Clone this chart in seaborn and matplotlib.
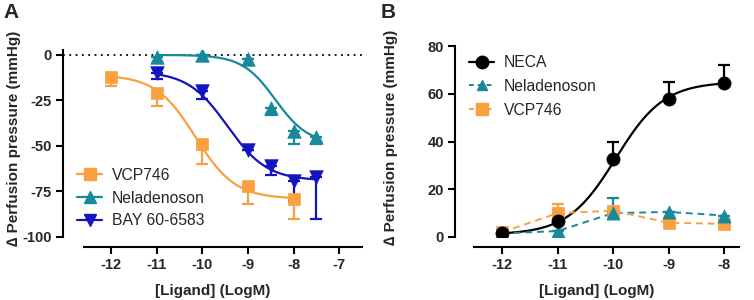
import numpy as np
import pandas as pd
import matplotlib
matplotlib.use("Agg")
import matplotlib.pyplot as plt
import seaborn as sns
from matplotlib.lines import Line2D

# colores
naranja = "#F9A040"
verde = "#17899A"
azul = "#1414C0"

# Panel A: vasodilatacion (valores negativos), error hacia abajo
x_vcp_a = [-12, -11, -10, -9, -8]
y_vcp_a = [-12, -21, -49, -72, -79]
e_vcp_a = [5, 7, 11, 10, 11]

x_nel_a = [-11, -10, -9, -8.5, -8, -7.5]
y_nel_a = [-1, 0, -2, -29, -42, -45]
e_nel_a = [0, 0, 0, 4, 7, 4]

x_bay_a = [-11, -10, -9, -8.5, -8, -7.5]
y_bay_a = [-10, -20, -52, -61, -69, -67]
e_bay_a = [3, 4, 0, 5, 11, 23]

# parametros del ajuste sigmoide (arriba, abajo, logEC50, hill)
fit_vcp_a = (-11, -79, -10.15, 1.0)
fit_nel_a = (0, -49, -8.4, 1.2)
fit_bay_a = (-9, -69, -9.45, 1.0)

# Panel B: vasoconstriccion, error hacia arriba
x_b = [-12, -11, -10, -9, -8]
y_neca_b = [1.5, 6.5, 32.5, 58, 64.5]
e_neca_b = [0, 0, 7.5, 7, 7.5]
y_nel_b = [1.5, 2.5, 10, 10.5, 9]
e_nel_b = [0, 0, 6.5, 0, 0]
y_vcp_b = [2, 10, 11, 6, 5.5]
e_vcp_b = [0, 4, 0, 0, 0]
fit_neca_b = (1, 65, -9.95, 1.0)


def sigmoide(x, p):
    arriba, abajo, ec50, hill = p
    return arriba + (abajo - arriba) / (1 + 10 ** ((ec50 - x) * hill))


def curva(ax, xmin, xmax, p, color):
    xs = np.linspace(xmin, xmax, 200)
    df = pd.DataFrame({'x': xs, 'y': sigmoide(xs, p)})
    sns.lineplot(data=df, x='x', y='y', color=color, lw=1.6, ax=ax)


def puntos(ax, x, y, e, color, marker, signo, ms=80):
    ax.errorbar(x, y, yerr=[np.zeros(len(e)) if signo > 0 else e,
                            e if signo > 0 else np.zeros(len(e))],
                fmt='none', ecolor=color, elinewidth=1.6, capsize=4.5,
                capthick=1.6, zorder=3)
    sns.scatterplot(x=x, y=y, color=color, marker=marker, s=ms,
                    edgecolor=color, linewidth=0.5, ax=ax, zorder=4)


sns.set_style("ticks")
plt.rcParams['font.family'] = ['Liberation Sans', 'DejaVu Sans']
plt.rcParams['axes.unicode_minus'] = False

fig = plt.figure(figsize=(7.54, 3.0), dpi=100)
axA = fig.add_axes([63 / 754, 1 - 237 / 300, 299 / 754, 187 / 300])
axB = fig.add_axes([455 / 754, 1 - 237 / 300, 284 / 754, 191 / 300])

# ----- A -----
axA.axhline(0, color='black', ls=(0, (1, 2.5)), lw=1.3, zorder=1)
curva(axA, -12, -8, fit_vcp_a, naranja)
curva(axA, -11, -7.5, fit_nel_a, verde)
curva(axA, -11, -7.5, fit_bay_a, azul)
puntos(axA, x_vcp_a, y_vcp_a, e_vcp_a, naranja, 's', -1)
puntos(axA, x_nel_a, y_nel_a, e_nel_a, verde, '^', -1, ms=95)
puntos(axA, x_bay_a, y_bay_a, e_bay_a, azul, 'v', -1, ms=95)
axA.set_xlim(-13.05, -6.5)
axA.set_ylim(-100, 2.7)
axA.set_xticks([-12, -11, -10, -9, -8, -7])
axA.set_yticks([0, -25, -50, -75, -100])
axA.spines['bottom'].set_bounds(-12.6, -6.5)
axA.spines['left'].set_bounds(-100, 2.7)

hA = [Line2D([], [], color=naranja, marker='s', ms=8.5, lw=1.6),
      Line2D([], [], color=verde, marker='^', ms=9, lw=1.6),
      Line2D([], [], color=azul, marker='v', ms=9, lw=1.6)]
axA.legend(hA, ['VCP746', 'Neladenoson', 'BAY 60-6583'], loc='lower left',
           bbox_to_anchor=(0.0, -0.03), frameon=False, fontsize=11.3,
           handlelength=1.6, handletextpad=0.6, labelspacing=0.5)

# ----- B -----
curva(axB, -12, -8, fit_neca_b, 'black')
sns.lineplot(x=x_b, y=y_nel_b, color=verde, lw=1.4, ls=(0, (3.5, 2.5)), ax=axB)
sns.lineplot(x=x_b, y=y_vcp_b, color=naranja, lw=1.4, ls=(0, (3.5, 2.5)), ax=axB)
puntos(axB, x_b, y_vcp_b, e_vcp_b, naranja, 's', 1)
puntos(axB, x_b, y_nel_b, e_nel_b, verde, '^', 1, ms=90)
puntos(axB, x_b, y_neca_b, e_neca_b, 'black', 'o', 1, ms=90)
axB.set_xlim(-12.85, -7.73)
axB.set_ylim(0, 80)
axB.set_xticks([-12, -11, -10, -9, -8])
axB.set_yticks([0, 20, 40, 60, 80])
axB.spines['bottom'].set_bounds(-12.5, -7.73)

hB = [Line2D([], [], color='black', marker='o', ms=9, lw=1.6),
      Line2D([], [], color=verde, marker='^', ms=7.5, lw=1.4, ls=(0, (2.5, 2))),
      Line2D([], [], color=naranja, marker='s', ms=8, lw=1.4, ls=(0, (2.5, 2)))]
axB.legend(hB, ['NECA', 'Neladenoson', 'VCP746'], loc='upper left',
           bbox_to_anchor=(0.0, 1.025), frameon=False, fontsize=11.3,
           handlelength=1.6, handletextpad=0.6, labelspacing=0.55)

for ax in (axA, axB):
    sns.despine(ax=ax)
    ax.spines['bottom'].set_position(('outward', 7))
    for s in ('left', 'bottom'):
        ax.spines[s].set_linewidth(1.5)
        ax.spines[s].set_color('black')
    ax.tick_params(width=1.5, length=5, color='black', labelsize=10.5, pad=3)
    for lab in ax.get_xticklabels() + ax.get_yticklabels():
        lab.set_fontweight('bold')
    ax.set_xlabel('[Ligand] (LogM)', fontsize=11, fontweight='bold', labelpad=9)
    ax.set_ylabel('∆ Perfusion pressure (mmHg)', fontsize=11, fontweight='bold')

axA.yaxis.set_label_coords(-0.14, 0.53)
axB.yaxis.set_label_coords(-0.2, 0.52)

fig.text(3 / 754, 1 - 12 / 300, 'A', fontsize=15, fontweight='bold', va='center')
fig.text(381 / 754, 1 - 12 / 300, 'B', fontsize=15, fontweight='bold', va='center')

fig.savefig('out.png', dpi=100)
